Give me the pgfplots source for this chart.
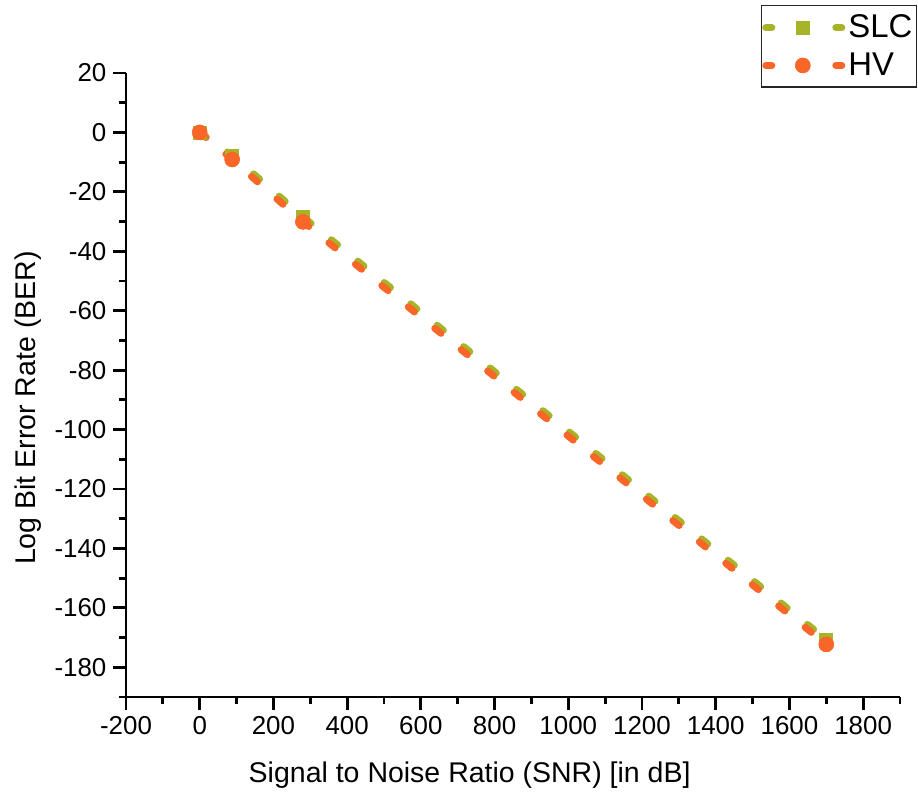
\documentclass[border=0pt]{standalone}
\usepackage{fontspec}
\setmainfont{Liberation Sans}
\usepackage{pgfplots}
\pgfplotsset{compat=1.18}
\definecolor{slc}{RGB}{168,180,40}
\definecolor{hv}{RGB}{250,102,40}
\begin{document}
\begin{tikzpicture}
\begin{axis}[
  scale only axis, width=387bp, height=312bp,
  xmin=-200, xmax=1900, ymin=-190, ymax=20,
  axis x line=bottom, axis y line=left,
  axis line style={-, line width=1.4bp, black},
  xtick={-200,0,...,1800}, ytick={-180,-160,...,20},
  minor xtick={-100,100,...,1900}, minor ytick={-190,-170,...,10},
  tick align=outside, major tick length=6.3bp, minor tick length=3.5bp,
  major tick style={line width=1.4bp, black},
  minor tick style={line width=1.4bp, black},
  tick label style={font=\fontsize{13}{15}\selectfont},
  /pgf/number format/assume math mode=true,
  /pgf/number format/1000 sep={},
  xlabel={Signal to Noise Ratio (SNR) [in dB]},
  ylabel={Log Bit Error Rate (BER)},
  label style={font=\fontsize{14.3}{17}\selectfont},
  xlabel style={at={(axis description cs:0.444,-0.125)}, anchor=center},
  ylabel style={at={(axis description cs:-0.1266,0.463)}, anchor=center},
  legend style={at={(axis description cs:1.022,1.109)}, anchor=north east,
    draw=black!85, line width=0.75bp, font=\fontsize{16.5}{19}\selectfont,
    inner xsep=0.5bp, inner ysep=2.5bp, row sep=2bp,
    nodes={inner xsep=1.5bp}},
  legend cell align=left,
  legend image code/.code={
    \draw[#1, solid, line cap=round] (0bp,0bp) -- (3bp,0bp);
    \draw[#1, solid, line cap=round] (35bp,0bp) -- (38bp,0bp);
    \draw[#1, solid] plot coordinates {(18.5bp,0bp)};
  },
]
\addplot[slc, line width=3.5bp, dash pattern=on 4bp off 13bp, line cap=round,
  mark=square*, mark size=3.25bp, mark options={solid, line width=0.3bp}]
  coordinates {(0,0) (88,-7.7) (280,-28.4) (1700,-170.7)};
\addlegendentry{SLC}
\addplot[hv, line width=3.5bp, dash pattern=on 4bp off 13bp, line cap=round,
  mark=*, mark size=3.75bp, mark options={solid, line width=0.3bp}]
  coordinates {(0,0) (88,-9.1) (280,-30.1) (1700,-172.3)};
\addlegendentry{HV}
\coordinate (SW) at (rel axis cs:0,0);
\end{axis}
\pgfresetboundingbox
\path (SW) ++(-63bp,-51bp) rectangle ++(459bp,399.5bp);
\end{tikzpicture}
\end{document}
